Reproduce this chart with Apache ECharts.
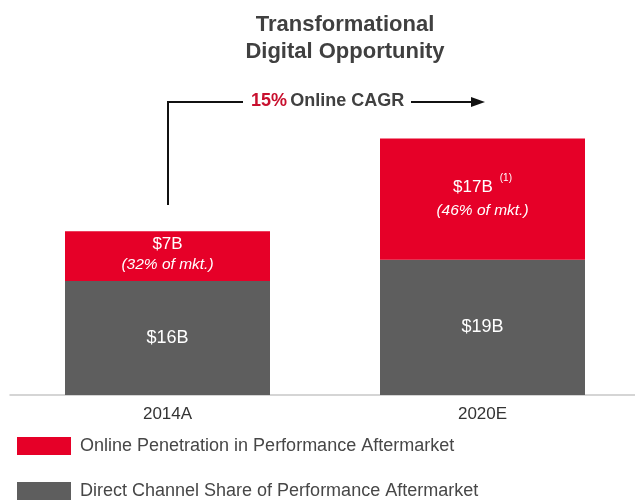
<!DOCTYPE html>
<html>
<head>
<meta charset="utf-8">
<script src="https://cdn.jsdelivr.net/npm/echarts@6/dist/echarts.min.js"></script>
<style>
  html, body { margin: 0; padding: 0; background: #fff; }
  #chart { width: 635px; height: 504px; }
</style>
</head>
<body>
<div id="chart"></div>
<script>
// data
const categories = ['2014A', '2020E'];
const directValues = [16, 19];
const onlineValues = [7, 17];
const onlineShares = ['32%', '46%'];
const onlineNotes = ['', '(1)'];
const onlineName = 'Online Penetration in Performance Aftermarket';
const directName = 'Direct Channel Share of Performance Aftermarket';

const RED = '#e60028';
const GRAY = '#5e5e5e';
const FONT = '"Liberation Sans", Arial, sans-serif';

const chart = echarts.init(document.getElementById('chart'));

// une légende par ligne
function legendRow(name, top) {
    return {
        left: 12,
        top: top,
        itemWidth: 54,
        itemHeight: 18,
        icon: 'rect',
        selectedMode: false,
        data: [name],
        textStyle: { fontFamily: FONT, fontSize: 18, color: '#474747', padding: [0, 0, 0, 4] }
    };
}

const option = {
    backgroundColor: '#fff',
    animation: false,
    textStyle: { fontFamily: FONT },
    title: {
        text: 'Transformational\nDigital Opportunity',
        left: 340,
        textAlign: 'center',
        top: 6,
        textStyle: {
            fontFamily: FONT,
            fontSize: 22,
            fontWeight: 'bold',
            color: '#404040',
            lineHeight: 27
        }
    },
    legend: [legendRow(onlineName, 432), legendRow(directName, 477)],
    grid: { left: 10, width: 630, top: 110, bottom: 109, outerBoundsMode: 'none', containLabel: false },
    xAxis: {
        type: 'category',
        data: categories,
        axisLine: { lineStyle: { color: '#c8c8c8', width: 1.5 } },
        axisTick: { show: false },
        axisLabel: { fontFamily: FONT, fontSize: 17, color: '#333', margin: 11 }
    },
    yAxis: {
        type: 'value',
        min: 0,
        max: 40,
        show: false,
        splitLine: { show: false }
    },
    series: [
        {
            name: directName,
            type: 'bar',
            stack: 'total',
            barWidth: 205,
            itemStyle: { color: GRAY },
            label: {
                show: true,
                position: 'inside',
                color: '#fff',
                fontFamily: FONT,
                fontSize: 18,
                formatter: p => '$' + p.value + 'B'
            },
            data: directValues
        },
        {
            name: onlineName,
            type: 'bar',
            stack: 'total',
            barWidth: 205,
            itemStyle: { color: RED },
            label: {
                show: true,
                position: 'inside',
                color: '#fff',
                fontFamily: FONT,
                offset: [0, -2],
                formatter: p => '{a|$' + p.value + 'B}' +
                    (onlineNotes[p.dataIndex] ? '{s|' + onlineNotes[p.dataIndex] + '}' : '') +
                    '\n{b|(' + onlineShares[p.dataIndex] + ' of mkt.)}',
                rich: {
                    a: { fontSize: 17, color: '#fff', fontFamily: FONT, lineHeight: 21 },
                    s: { fontSize: 10, color: '#fff', fontFamily: FONT, verticalAlign: 'top', padding: [0, 0, 18, 7] },
                    b: { fontSize: 15.5, color: '#fff', fontFamily: FONT, fontStyle: 'italic', lineHeight: 20 }
                }
            },
            data: onlineValues
        }
    ],
    graphic: [
        {
            type: 'polyline',
            shape: { points: [[168, 205], [168, 102], [243, 102]] },
            style: { stroke: '#111', lineWidth: 2, fill: null }
        },
        {
            type: 'text',
            left: 251,
            top: 92,
            style: {
                text: '{r|15%} {k|Online CAGR}',
                rich: {
                    r: { fontSize: 18, fontWeight: 'bold', fill: '#c8102e', fontFamily: FONT },
                    k: { fontSize: 18, fontWeight: 'bold', fill: '#404040', fontFamily: FONT }
                }
            }
        },
        {
            type: 'line',
            shape: { x1: 411, y1: 102, x2: 474, y2: 102 },
            style: { stroke: '#111', lineWidth: 2 }
        },
        {
            type: 'polygon',
            shape: { points: [[471, 97], [485, 102], [471, 107]] },
            style: { fill: '#111' }
        }
    ]
};

chart.setOption(option);
</script>
</body>
</html>
